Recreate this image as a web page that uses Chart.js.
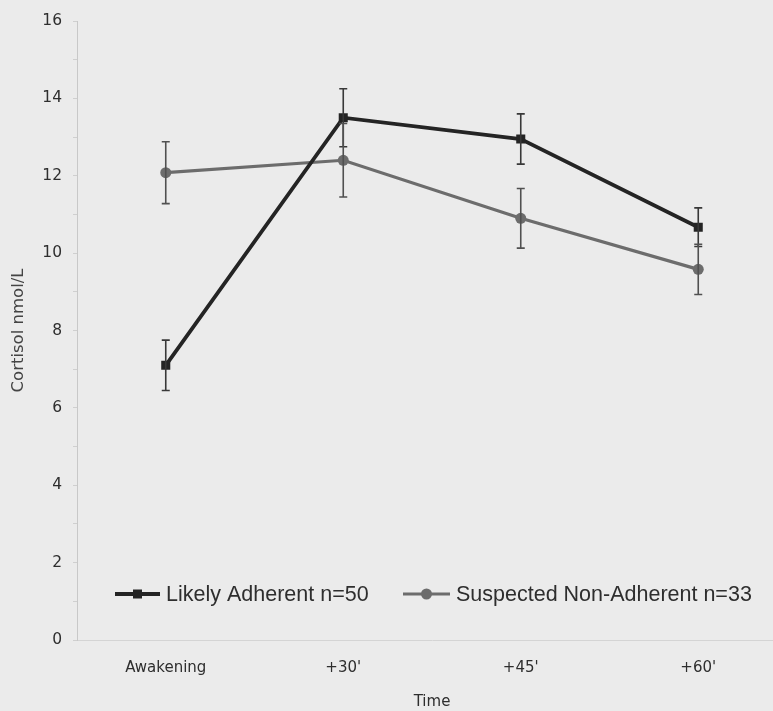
<!DOCTYPE html>
<html>
<head>
<meta charset="utf-8">
<script src="https://cdn.jsdelivr.net/npm/chart.js@4"></script>
<style>
  html, body { margin: 0; padding: 0; background: #ebebeb; overflow: hidden; }
  #wrap { position: absolute; left: 0; top: 0; width: 800px; height: 711px; }
</style>
</head>
<body>
<div id="wrap"><canvas id="c" width="800" height="711"></canvas></div>
<script>
// Sampling times after awakening
const timepoints = ["Awakening", "+30'", "+45'", "+60'"];

// Mean salivary cortisol (nmol/L) per group
const adherentMeans = [7.1, 13.5, 12.95, 10.67];
const adherentErr   = [0.65, 0.75, 0.65, 0.5];

const nonAdherentMeans = [12.08, 12.4, 10.9, 9.58];
const nonAdherentErr   = [0.8, 0.95, 0.77, 0.65];

const seriesNames = ["Likely Adherent n=50", "Suspected Non-Adherent n=33"];

const DARK = '#242424';
const GREY = '#6c6c6c';

// Vertical error bars drawn from each dataset's "err" array via the scales
const errorBars = {
  id: 'errorBars',
  afterDatasetsDraw(chart) {
    const ctx = chart.ctx;
    const xs = chart.scales.x, ys = chart.scales.y;
    chart.data.datasets.forEach((ds) => {
      if (!ds.err) return;
      ctx.save();
      ctx.strokeStyle = ds.errColor;
      ctx.lineWidth = 1.6;
      ds.data.forEach((v, j) => {
        const x = xs.getPixelForValue(j);
        const top = ys.getPixelForValue(v + ds.err[j]);
        const bot = ys.getPixelForValue(v - ds.err[j]);
        ctx.beginPath();
        ctx.moveTo(x, top); ctx.lineTo(x, bot);
        ctx.moveTo(x - 4, top); ctx.lineTo(x + 4, top);
        ctx.moveTo(x - 4, bot); ctx.lineTo(x + 4, bot);
        ctx.stroke();
      });
      ctx.restore();
    });
  }
};

// Legend laid inside the plot, near its bottom
const insideLegend = {
  id: 'insideLegend',
  afterDraw(chart) {
    const ctx = chart.ctx;
    const y = 594;
    const items = [
      { x: 115, w: 45, ds: chart.data.datasets[0] },
      { x: 403, w: 47, ds: chart.data.datasets[1] }
    ];
    ctx.save();
    items.forEach(it => {
      const ds = it.ds;
      ctx.strokeStyle = ds.borderColor;
      ctx.lineWidth = ds.borderWidth;
      ctx.beginPath();
      ctx.moveTo(it.x, y); ctx.lineTo(it.x + it.w, y);
      ctx.stroke();
      const cx = it.x + it.w / 2;
      ctx.fillStyle = ds.pointBackgroundColor;
      if (ds.pointStyle === 'rect') {
        ctx.fillRect(cx - 4.5, y - 4.5, 9, 9);
      } else {
        ctx.beginPath(); ctx.arc(cx, y, 5.5, 0, Math.PI * 2); ctx.fill();
      }
      ctx.fillStyle = '#2e2e2e';
      ctx.font = '21.5px "Liberation Sans", Arial, sans-serif';
      ctx.textBaseline = 'middle';
      ctx.fillText(ds.label, it.x + it.w + 6, y + 1);
    });
    ctx.restore();
  }
};

new Chart(document.getElementById('c'), {
  type: 'line',
  data: {
    labels: timepoints,
    datasets: [
      {
        label: seriesNames[0],
        data: adherentMeans,
        err: adherentErr,
        errColor: '#383838',
        borderColor: DARK,
        borderWidth: 3.8,
        pointStyle: 'rect',
        pointRadius: 6.4,
        pointBackgroundColor: DARK,
        pointBorderColor: DARK,
        pointBorderWidth: 0,
        tension: 0,
        order: 1
      },
      {
        label: seriesNames[1],
        data: nonAdherentMeans,
        err: nonAdherentErr,
        errColor: '#505050',
        borderColor: GREY,
        borderWidth: 3.2,
        pointStyle: 'circle',
        pointRadius: 5.5,
        pointBackgroundColor: GREY,
        pointBorderColor: GREY,
        pointBorderWidth: 0,
        tension: 0,
        order: 2
      }
    ]
  },
  options: {
    responsive: false,
    animation: false,
    devicePixelRatio: 1,
    layout: { padding: { top: 21, right: 13, left: 0, bottom: 0 } },
    plugins: { legend: { display: false }, tooltip: { enabled: false } },
    scales: {
      x: {
        offset: true,
        grid: { display: false, drawTicks: false },
        border: { display: true, color: '#d4d4d4', width: 1 },
        ticks: {
          padding: 19,
          color: '#2e2e2e',
          font: { family: '"DejaVu Sans", sans-serif', size: 15 }
        },
        title: {
          display: true,
          text: 'Time',
          color: '#2e2e2e',
          font: { family: '"DejaVu Sans", sans-serif', size: 15 },
          padding: { top: 0, bottom: 0 }
        },
        afterFit(scale) { scale.height = 71; }
      },
      y: {
        min: 0,
        max: 16,
        grid: { drawOnChartArea: false, drawTicks: true, tickLength: 4, color: '#cfcfcf' },
        border: { display: true, color: '#c8c8c8', width: 1 },
        ticks: {
          stepSize: 1,
          padding: 11,
          color: '#2e2e2e',
          font: { family: '"DejaVu Sans", sans-serif', size: 15.5 },
          callback: v => (v % 2 === 0 ? v : '')
        },
        title: {
          display: true,
          text: 'Cortisol nmol/L',
          color: '#444',
          font: { family: '"DejaVu Sans", sans-serif', size: 16.5 },
          padding: { top: 9, bottom: 0 }
        },
        afterFit(scale) { scale.width = 77; }
      }
    }
  },
  plugins: [errorBars, insideLegend]
});
</script>
</body>
</html>
